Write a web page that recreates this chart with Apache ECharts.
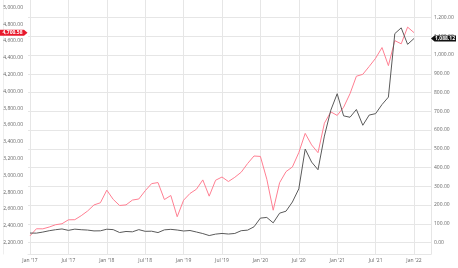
<!DOCTYPE html>
<html><head><meta charset="utf-8">
<script src="https://cdn.jsdelivr.net/npm/echarts@6/dist/echarts.min.js"></script>
<style>html,body{margin:0;padding:0;background:#fff}#c{width:458px;height:268px}</style>
</head><body><div id="c"></div>
<script>
// Monthly points, Jan 2017 .. Jan 2022 (index 0 = Jan '17)
const pinkValues = [
 2278.87,2363.64,2362.72,2384.20,2411.80,2423.41,2470.30,2471.65,2519.36,2575.26,2647.58,2673.61,
 2823.81,2713.83,2640.87,2648.05,2705.27,2718.37,2816.29,2901.52,2913.98,2711.74,2760.17,2506.85,
 2704.10,2784.49,2834.40,2945.83,2752.06,2941.76,2980.38,2926.46,2976.74,3037.56,3140.98,3230.78,
 3225.52,2954.22,2584.59,2912.43,3044.31,3100.29,3271.12,3500.31,3363.00,3269.96,3621.63,3756.07,
 3714.24,3811.15,3972.89,4181.17,4204.11,4297.50,4395.26,4522.68,4307.54,4605.38,4567.00,4766.18,
 4700.58];
const blackValues = [
 50.39,50.00,55.66,62.81,68.20,72.32,64.69,71.18,68.22,66.31,61.77,62.27,
 70.86,68.61,53.23,58.78,56.95,68.59,59.63,60.33,52.95,67.46,70.10,66.56,
 61.40,63.98,55.97,47.74,37.03,44.69,48.32,45.12,48.17,62.98,65.99,83.67,
 130.11,133.60,104.80,156.38,167.00,215.96,286.15,498.32,429.01,388.04,567.60,705.67,
 793.53,675.50,667.93,709.44,625.22,679.70,687.20,735.72,775.48,1114.00,1144.76,1056.78,
 1088.12];
const xTickLabels = ["Jan '17","Jul '17","Jan '18","Jul '18","Jan '19","Jul '19","Jan '20","Jul '20","Jan '21","Jul '21","Jan '22"];
const leftTicks = {min:2200, max:5000, step:200};
const rightTicks = {min:0, max:1200, step:100};

const PINK = '#ff7f92', DARK = '#5a5a5a', GRIDC = '#e6e6e6', TXT = '#666';
const FONT = 'Open Sans';
const fmt = v => Number(v).toLocaleString('en-US',{minimumFractionDigits:2,maximumFractionDigits:2});
const xMin = -2/6.4, xMax = 60 + 17/6.4;

const chart = echarts.init(document.getElementById('c'), null, {renderer:'canvas'});
const hiddenX = (gi) => ({type:'value', gridIndex:gi, min:xMin, max:xMax, show:false});
const option = {
  animation:false,
  grid:[
    {left:28, right:27, top:0, bottom:14},        // 0 frame
    {left:30, right:44, top:0, bottom:14},        // 1 x labels + vertical grid
    {left:28, right:27, top:17.5, bottom:25.5},   // 2 right axis + horizontal grid
    {left:28, right:27, top:7.5, bottom:25.5}     // 3 left axis
  ],
  xAxis:[
    {type:'value', gridIndex:0, min:xMin, max:xMax, axisLine:{show:true, lineStyle:{color:GRIDC}}, axisTick:{show:false}, axisLabel:{show:false}, splitLine:{show:false}},
    {type:'value', gridIndex:1, min:0, max:60, interval:6, axisLine:{show:false}, axisTick:{show:false},
      axisLabel:{fontSize:5, fontFamily:FONT, color:TXT, margin:4, formatter:v=>xTickLabels[Math.round(v/6)]},
      splitLine:{show:true, lineStyle:{color:GRIDC, width:1}}},
    hiddenX(2), hiddenX(3)
  ],
  yAxis:[
    {type:'value', gridIndex:0, position:'left', min:0, max:1, axisLine:{show:true, lineStyle:{color:GRIDC}}, axisTick:{show:false}, axisLabel:{show:false}, splitLine:{show:false}},
    {type:'value', gridIndex:0, position:'right', min:0, max:1, axisLine:{show:true, lineStyle:{color:GRIDC}}, axisTick:{show:false}, axisLabel:{show:false}, splitLine:{show:false}},
    {type:'value', gridIndex:0, position:'left', offset:25, min:0, max:1, axisLine:{show:true, lineStyle:{color:'#eeeeee'}}, axisTick:{show:false}, axisLabel:{show:false}, splitLine:{show:false}},
    {type:'value', gridIndex:2, position:'right', min:rightTicks.min, max:rightTicks.max, interval:rightTicks.step,
      axisLine:{show:false}, axisTick:{show:false},
      axisLabel:{fontSize:5, fontFamily:FONT, color:TXT, margin:3, formatter:fmt},
      splitLine:{show:true, lineStyle:{color:GRIDC, width:1}}},
    {type:'value', gridIndex:3, position:'left', min:leftTicks.min, max:leftTicks.max, interval:leftTicks.step,
      axisLine:{show:false}, axisTick:{show:false},
      axisLabel:{fontSize:5, fontFamily:FONT, color:TXT, margin:5, formatter:fmt},
      splitLine:{show:false}},
    {type:'value', gridIndex:1, min:0, max:1, show:false}
  ],
  series:[
    {type:'line', xAxisIndex:2, yAxisIndex:3, data:blackValues.map((v,i)=>[i,v]), showSymbol:false, lineStyle:{color:DARK, width:1}, z:3},
    {type:'line', xAxisIndex:3, yAxisIndex:4, data:pinkValues.map((v,i)=>[i,v]), showSymbol:false, lineStyle:{color:PINK, width:1}, z:2}
  ]
};
chart.setOption(option);

const lastPink = pinkValues[pinkValues.length-1];
const lastBlack = blackValues[blackValues.length-1];
const yP = chart.convertToPixel({yAxisIndex:4}, lastPink);
const yB = chart.convertToPixel({yAxisIndex:3}, lastBlack);
const h = 3;
chart.setOption({graphic:[
  {type:'polygon', z:100, shape:{points:[[0,yP-h],[24,yP-h],[27.5,yP],[24,yP+h],[0,yP+h]]}, style:{fill:'#e8192c'}},
  {type:'text', z:101, x:12.5, y:yP, style:{text:fmt(lastPink), fill:'#fff', fontSize:5, fontWeight:'bold', fontFamily:FONT, align:'center', verticalAlign:'middle'}},
  {type:'polygon', z:100, shape:{points:[[431,yB],[434.5,yB-h],[456,yB-h],[456,yB+h],[434.5,yB+h]]}, style:{fill:'#111'}},
  {type:'text', z:101, x:445, y:yB, style:{text:fmt(lastBlack), fill:'#fff', fontSize:5, fontWeight:'bold', fontFamily:FONT, align:'center', verticalAlign:'middle'}}
]});
</script></body></html>
